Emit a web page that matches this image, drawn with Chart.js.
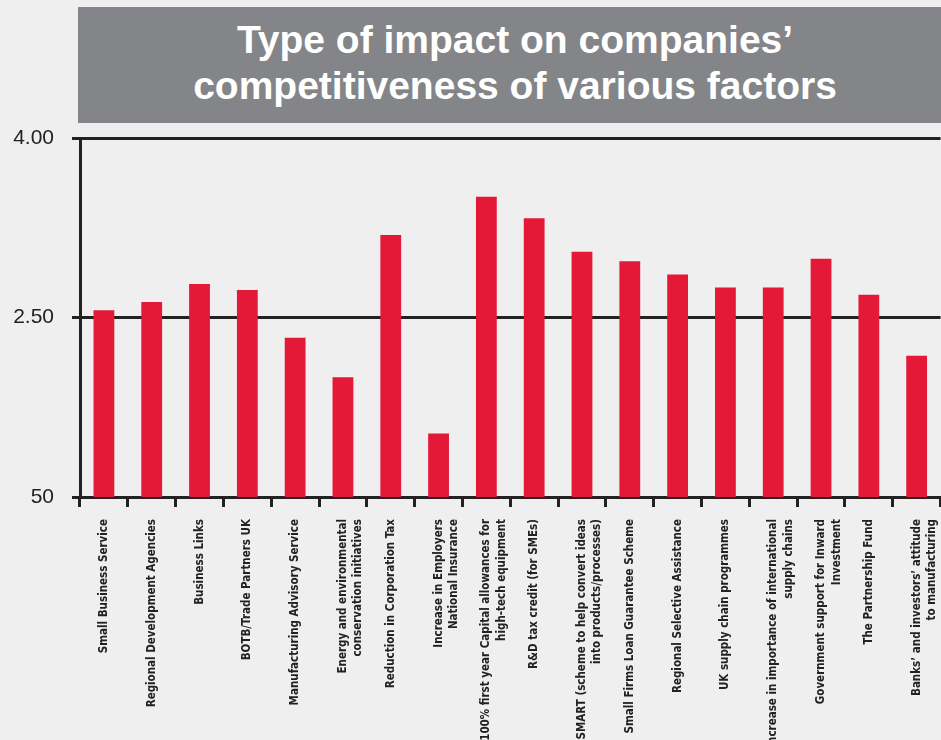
<!DOCTYPE html>
<html>
<head>
<meta charset="utf-8">
<script src="https://cdn.jsdelivr.net/npm/chart.js@4"></script>
<style>
  html, body { margin: 0; padding: 0; overflow: hidden; background: #efefef; }
  #wrap { position: relative; width: 941px; height: 740px; overflow: hidden; }
  #title {
    position: absolute; left: 78px; top: 7px; width: 874px; height: 116px;
    background: #848588; color: #fff; text-align: center;
    font: bold 39px "Liberation Sans", sans-serif; line-height: 46px;
    box-sizing: border-box; padding-top: 10px;
  }
  canvas { position: absolute; left: 0; top: 0; }
</style>
</head>
<body>
<div id="wrap">
  <canvas id="chart" width="960" height="740"></canvas>
  <div id="title">Type of impact on companies’<br>competitiveness of various factors</div>
</div>
<script>
// categories (multi-line labels as arrays)
const factors = [
  "Small Business Service",
  "Regional Development Agencies",
  "Business Links",
  "BOTB/Trade Partners UK",
  "Manufacturing Advisory Service",
  ["Energy and environmental", "conservation initiatives"],
  "Reduction in Corporation Tax",
  ["Increase in Employers", "National Insurance"],
  ["100% first year Capital allowances for", "high-tech equipment"],
  "R&D tax credit (for SMEs)",
  ["SMART (scheme to help convert ideas", "into products/processes)"],
  "Small Firms Loan Guarantee Scheme",
  "Regional Selective Assistance",
  "UK supply chain programmes",
  ["Increase in importance of international", "supply chains"],
  ["Government support for Inward", "Investment"],
  "The Partnership Fund",
  ["Banks’ and investors’ attitude", "to manufacturing"]
];

// impact scores
const impact = [2.56, 2.63, 2.78, 2.73, 2.33, 2.00, 3.19, 1.53, 3.51, 3.33, 3.05, 2.97, 2.86, 2.75, 2.75, 2.99, 2.69, 2.18];

// y axis ticks as printed
const yTickValues = [1.0, 2.5, 4.0];
const yTickLabels = ["50", "2.50", "4.00"];

const ctx = document.getElementById("chart").getContext("2d");

new Chart(ctx, {
  type: "bar",
  data: {
    labels: factors,
    datasets: [{
      data: impact,
      backgroundColor: "#e31937",
      barPercentage: 0.87,
      categoryPercentage: 0.5
    }]
  },
  options: {
    responsive: false,
    animation: false,
    layout: { padding: { top: 138, right: 11, left: 0, bottom: 0 } },
    plugins: {
      legend: { display: false },
      tooltip: { enabled: false },
      title: { display: false }
    },
    scales: {
      x: {
        grid: {
          offset: true,
          drawOnChartArea: false,
          drawTicks: true,
          tickLength: 10,
          color: "#222",
          lineWidth: 3
        },
        border: { display: true, color: "#222", width: 3 },
        ticks: {
          autoSkip: false,
          minRotation: 90,
          maxRotation: 90,
          padding: 12,
          color: "#222",
          font: { family: "'DejaVu Sans Condensed', sans-serif", weight: "bold", size: 11.5, lineHeight: 1.35 }
        },
        afterFit: scale => { scale.height = 243; }
      },
      y: {
        min: 1,
        max: 4,
        afterBuildTicks: scale => {
          scale.ticks = yTickValues.map(v => ({ value: v }));
        },
        grid: {
          color: "#222",
          lineWidth: 3,
          tickLength: 8,
          drawTicks: true
        },
        border: { display: true, color: "#222", width: 3 },
        ticks: {
          padding: 18,
          color: "#222",
          font: { family: "'Liberation Sans', sans-serif", size: 21 },
          callback: value => yTickLabels[yTickValues.indexOf(value)]
        },
        afterFit: scale => { scale.width = 80; }
      }
    }
  }
});
</script>
</body>
</html>
